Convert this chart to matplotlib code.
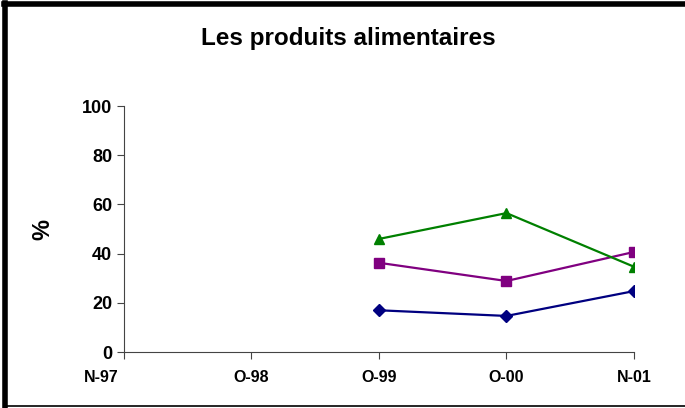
import matplotlib.pyplot as plt
from matplotlib.lines import Line2D
from matplotlib.transforms import ScaledTranslation

categories = ["N-97", "O-98", "O-99", "O-00", "N-01"]
blue = [None, None, 17, 14.7, 24.8]
purple = [None, None, 36.3, 28.9, 40.7]
green = [None, None, 46, 56.5, 34.7]

plt.rcParams["font.family"] = ["Liberation Sans", "DejaVu Sans"]

fig = plt.figure(figsize=(6.85, 4.08), dpi=100)
ax = fig.add_axes([0.181, 0.137, 0.7445, 0.603])

x = list(range(len(categories)))


def clean(vals):
    return [float("nan") if v is None else v for v in vals]


ax.plot(x, clean(blue), color="#000080", marker="D", markersize=6, lw=1.6)
ax.plot(x, clean(purple), color="#800080", marker="s", markersize=7, lw=1.6)
ax.plot(x, clean(green), color="#008000", marker="^", markersize=7.5, lw=1.6)

ax.set_xlim(0, 4)
ax.set_ylim(0, 100)
ax.set_yticks([0, 20, 40, 60, 80, 100])
ax.set_xticks(x)
ax.set_xticklabels(categories, fontsize=11.5, fontweight="bold")
ax.tick_params(axis="y", labelsize=13, length=5, width=0.8, color="#444444")
ax.tick_params(axis="x", length=5, width=0.8, color="#444444", pad=8)
for t in ax.get_yticklabels():
    t.set_fontweight("bold")
# first category label sits left of the axis, as in the original
first = ax.get_xticklabels()[0]
first.set_transform(first.get_transform() + ScaledTranslation(-0.23, 0, fig.dpi_scale_trans))
ax.spines["top"].set_visible(False)
ax.spines["right"].set_visible(False)
ax.spines["left"].set_color("#444444")
ax.spines["bottom"].set_color("#444444")
ax.set_ylabel("%", fontsize=17, fontweight="bold", labelpad=20)

fig.text(0.508, 0.905, "Les produits alimentaires", ha="center", va="center",
         fontsize=17.5, fontweight="bold")

# figure border
fig.add_artist(Line2D([0.008, 0.008], [0, 0.993], transform=fig.transFigure, color="black", lw=4))
fig.add_artist(Line2D([0.006, 1], [0.991, 0.991], transform=fig.transFigure, color="black", lw=4))
fig.add_artist(Line2D([0.006, 1], [0.005, 0.005], transform=fig.transFigure, color="black", lw=1.2))

fig.savefig("out.png", dpi=100)
